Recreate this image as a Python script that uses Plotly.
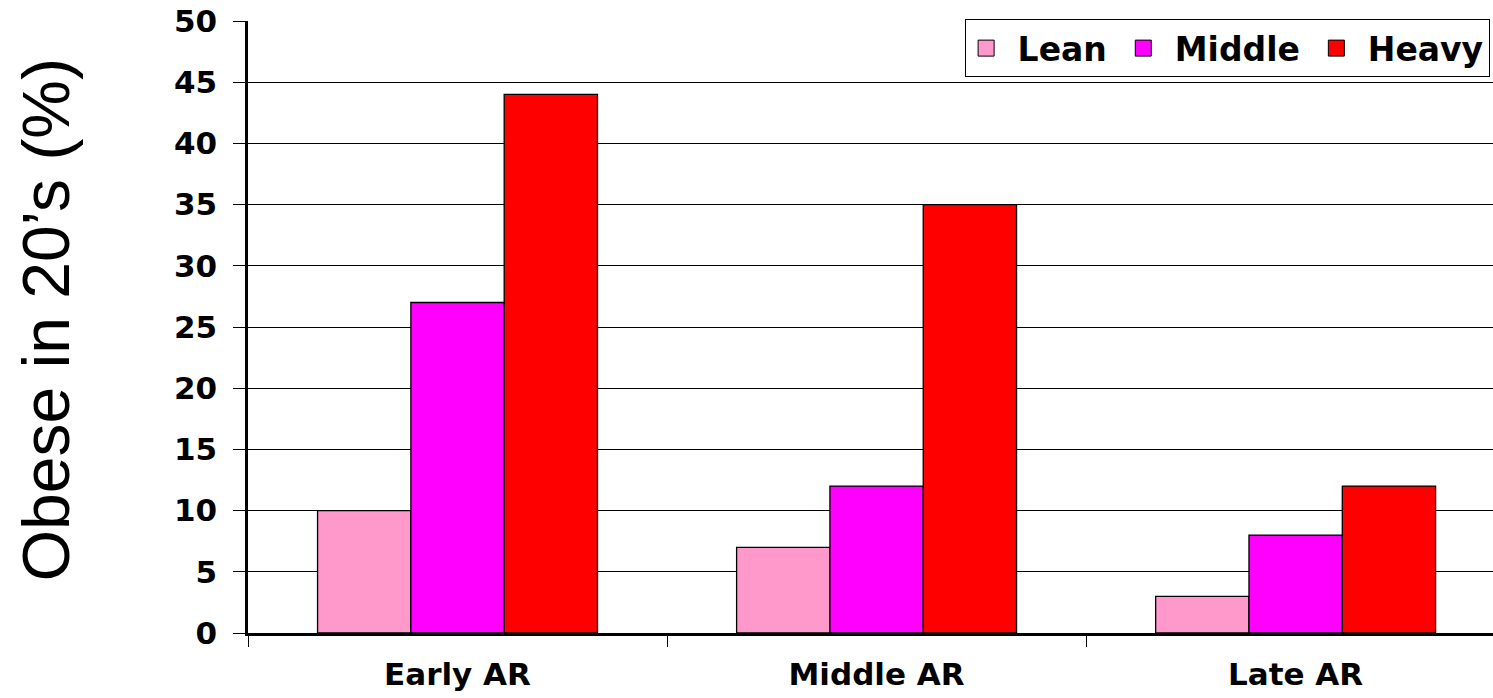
import plotly.graph_objects as go

categories = ["Early AR", "Middle AR", "Late AR"]
lean = [10, 7, 3]
middle = [27, 12, 8]
heavy = [44, 35, 12]
series_names = ["Lean", "Middle", "Heavy"]
colors = ["#FF99CC", "#FF00FF", "#FF0000"]
y_ticks = [0, 5, 10, 15, 20, 25, 30, 35, 40, 45, 50]
y_title = "Obese in 20\u2019s (%)"

BOLD = "DejaVu Sans, Verdana, sans-serif"
REG = "Liberation Sans, Arial, sans-serif"
NB = "\u00a0"

fig = go.Figure()
for name, vals, c in zip(series_names, [lean, middle, heavy], colors):
    fig.add_trace(go.Bar(x=categories, y=vals, name=name, showlegend=False,
                         marker=dict(color=c, line=dict(color="black", width=1.3))))
# legend entries with larger square swatches
for i, (name, c) in enumerate(zip(series_names, colors)):
    label = NB + name + (NB if i < len(series_names) - 1 else "")
    fig.add_trace(go.Scatter(x=[None], y=[None], name=label, mode="markers",
                             marker=dict(symbol="square", size=16, color=c,
                                         line=dict(color="black", width=1))))

fig.update_layout(
    width=1493, height=698,
    margin=dict(l=248, r=0, t=21, b=65),
    plot_bgcolor="white", paper_bgcolor="white",
    barmode="group", bargap=0.332, bargroupgap=0,
    font=dict(family=REG, color="black"),
    legend=dict(orientation="h", x=0.576, y=1.003, xanchor="left", yanchor="top",
                bgcolor="white", bordercolor="black", borderwidth=1,
                font=dict(size=33, family=BOLD, weight="bold"),
                itemsizing="trace"),
    showlegend=True,
)
fig.update_xaxes(range=[-0.5, 2.471], showline=True, linecolor="black", linewidth=2.5,
                 ticks="outside", tickson="boundaries", ticklen=11, tickcolor="black",
                 tickwidth=1.3, ticklabelstandoff=12, automargin=False,
                 tickfont=dict(size=31, family=BOLD, weight="bold"), showgrid=False)
fig.update_yaxes(range=[0, 50], tickvals=y_ticks, showline=True, linecolor="black", linewidth=2.5,
                 ticks="outside", ticklen=12, tickcolor="black", tickwidth=1.3,
                 ticklabelstandoff=10, automargin=False,
                 showgrid=True, gridcolor="black", gridwidth=1.2, zeroline=False,
                 tickfont=dict(size=31, family=BOLD, weight="bold"))
fig.add_annotation(text=y_title, xref="paper", yref="paper", x=-0.1622, y=0.511,
                   xanchor="center", yanchor="middle", textangle=-90, showarrow=False,
                   font=dict(size=66, family=REG, color="black"))

fig.write_html("out.html", config={"displayModeBar": False},
               post_script="document.body.style.margin='0';")
